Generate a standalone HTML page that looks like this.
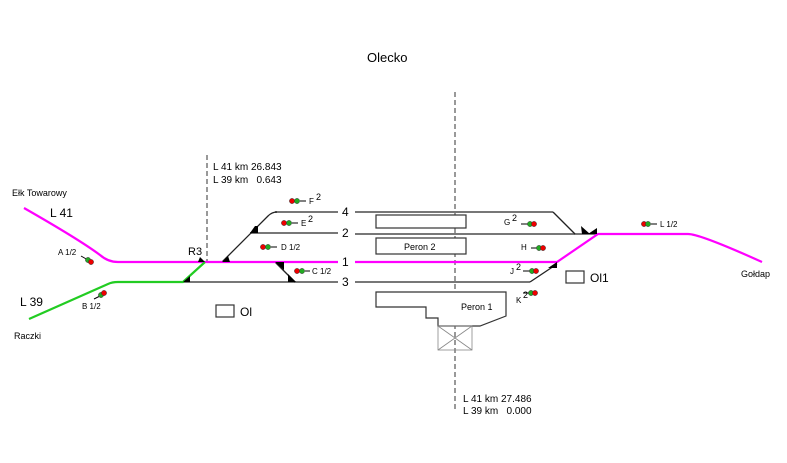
<!DOCTYPE html>
<html><head><meta charset="utf-8"><style>
html,body{margin:0;padding:0;background:#fff;width:787px;height:463px;overflow:hidden}
svg{display:block;font-family:"Liberation Sans",sans-serif}
</style></head><body>
<svg width="787" height="463" viewBox="0 0 787 463" xmlns="http://www.w3.org/2000/svg">
<text x="367" y="62" font-size="13">Olecko</text>
<line x1="207" y1="155" x2="207" y2="262" stroke="#333" stroke-dasharray="5,3"/>
<line x1="455" y1="92" x2="455" y2="412" stroke="#333" stroke-dasharray="5,3"/>
<text x="213" y="170" font-size="10">L 41 km 26.843</text>
<text x="213" y="183" font-size="10">L 39 km &#160;&#160;0.643</text>
<text x="463" y="402" font-size="10">L 41 km 27.486</text>
<text x="463" y="414" font-size="10">L 39 km &#160;&#160;0.000</text>
<g stroke="#777" stroke-width="2" fill="none">
<line x1="275" y1="212" x2="338" y2="212"/>
<line x1="355" y1="212" x2="553" y2="212"/>
<line x1="250" y1="233" x2="338" y2="233"/>
<line x1="355" y1="234" x2="596" y2="234"/>
<line x1="183" y1="282" x2="338" y2="282"/>
<line x1="355" y1="282" x2="530" y2="282"/>
</g>
<g stroke="#222" stroke-width="1.3" fill="none">
<path d="M222,262 L268,216 Q272,212 277,212"/>
<line x1="275" y1="262" x2="295" y2="282"/>
<line x1="553" y1="212" x2="575" y2="234"/>
<line x1="530" y1="282" x2="557" y2="264"/>
</g>
<g stroke="#ff00ff" stroke-width="2.2" fill="none">
<path d="M24,208 Q80,240 100,255 Q108,262 118,262 L338,262"/>
<path d="M355,262 L557,262 L598,234 L688,234 Q700,234 762,262"/>
</g>
<path d="M29,319 L108,284 Q112,282 118,282 L183,282 L205,262" stroke="#22cc22" stroke-width="2.2" fill="none"/>
<g fill="#000">
<polygon points="222,262 228,256 230,262"/>
<polygon points="250,233 255,226 258,226 258,233"/>
<polygon points="198,262 205,262 200,257"/>
<polygon points="183,282 190,282 190,276"/>
<polygon points="275,262 284,262 284,270"/>
<polygon points="288,282 296,282 288,274"/>
<polygon points="582,234 590,234 581,226"/>
<polygon points="588,234 597,234 597,228"/>
<polygon points="548,269 557,263 557,269" transform="translate(0,-1)"/>
</g>
<g font-size="12">
<text x="342" y="216">4</text><text x="342" y="237">2</text>
<text x="342" y="266">1</text><text x="342" y="286">3</text>
</g>
<g stroke="#333" stroke-width="1.2" fill="#fff">
<rect x="376" y="215" width="90" height="13"/>
<rect x="376" y="238" width="90" height="16"/>
<polygon points="376,292 506,292 506,316 480,326 438,326 438,318 426,318 426,307 376,307"/>
<rect x="216" y="305" width="18" height="12"/>
<rect x="566" y="271" width="18" height="12"/>
</g>
<g stroke="#888" stroke-width="0.8" fill="none">
<rect x="438" y="326" width="34" height="24"/>
<line x1="438" y1="326" x2="472" y2="350"/><line x1="472" y1="326" x2="438" y2="350"/>
</g>
<text x="404" y="250" font-size="9">Peron 2</text>
<text x="461" y="310" font-size="9">Peron 1</text>
<text x="240" y="316" font-size="12">Ol</text>
<text x="590" y="282" font-size="12">Ol1</text>
<text x="188" y="255" font-size="11">R3</text>
<text x="12" y="196" font-size="9">Ełk Towarowy</text>
<text x="50" y="217" font-size="12">L 41</text>
<text x="20" y="306" font-size="12">L 39</text>
<text x="14" y="339" font-size="9">Raczki</text>
<text x="741" y="277" font-size="9">Gołdap</text>
<g font-size="8">
<text x="58" y="255">A 1/2</text>
<line x1="81" y1="256" x2="88" y2="260" stroke="#000"/>
<circle cx="88" cy="260" r="2.6" fill="#22aa22" stroke="#333" stroke-width=".5"/><circle cx="91" cy="262" r="2.6" fill="#e00" stroke="#333" stroke-width=".5"/>
<text x="82" y="309">B 1/2</text>
<line x1="94" y1="299" x2="100" y2="296" stroke="#000"/>
<circle cx="101" cy="295" r="2.6" fill="#22aa22" stroke="#333" stroke-width=".5"/><circle cx="104" cy="293" r="2.6" fill="#e00" stroke="#333" stroke-width=".5"/>
</g>
<g font-size="8" stroke-width=".5">
<circle cx="292" cy="201" r="2.6" fill="#e00" stroke="#333"/><circle cx="297" cy="201" r="2.6" fill="#22aa22" stroke="#333"/>
<line x1="300" y1="201" x2="306" y2="201" stroke="#000" stroke-width="1"/>
<text x="309" y="204" stroke="none">F</text><text x="316" y="200" stroke="none" font-size="9">2</text>
<circle cx="284" cy="223" r="2.6" fill="#e00" stroke="#333"/><circle cx="289" cy="223" r="2.6" fill="#22aa22" stroke="#333"/>
<line x1="292" y1="223" x2="298" y2="223" stroke="#000" stroke-width="1"/>
<text x="301" y="226" stroke="none">E</text><text x="308" y="222" stroke="none" font-size="9">2</text>
<circle cx="263" cy="247" r="2.6" fill="#e00" stroke="#333"/><circle cx="268" cy="247" r="2.6" fill="#22aa22" stroke="#333"/>
<line x1="271" y1="247" x2="277" y2="247" stroke="#000" stroke-width="1"/>
<text x="281" y="250" stroke="none">D 1/2</text>
<circle cx="297" cy="271" r="2.6" fill="#e00" stroke="#333"/><circle cx="302" cy="271" r="2.6" fill="#22aa22" stroke="#333"/>
<line x1="305" y1="271" x2="310" y2="271" stroke="#000" stroke-width="1"/>
<text x="312" y="274" stroke="none">C 1/2</text>
<text x="504" y="225" stroke="none">G</text><text x="512" y="221" stroke="none" font-size="9">2</text>
<line x1="521" y1="224" x2="528" y2="224" stroke="#000" stroke-width="1"/>
<circle cx="530" cy="224" r="2.6" fill="#22aa22" stroke="#333"/><circle cx="534" cy="224" r="2.6" fill="#e00" stroke="#333"/>
<text x="521" y="250" stroke="none">H</text>
<line x1="531" y1="248" x2="537" y2="248" stroke="#000" stroke-width="1"/>
<circle cx="539" cy="248" r="2.6" fill="#22aa22" stroke="#333"/><circle cx="543" cy="248" r="2.6" fill="#e00" stroke="#333"/>
<text x="510" y="274" stroke="none">J</text><text x="516" y="270" stroke="none" font-size="9">2</text>
<line x1="523" y1="271" x2="530" y2="271" stroke="#000" stroke-width="1"/>
<circle cx="532" cy="271" r="2.6" fill="#22aa22" stroke="#333"/><circle cx="536" cy="271" r="2.6" fill="#e00" stroke="#333"/>
<text x="516" y="303" stroke="none">K</text><text x="523" y="298" stroke="none" font-size="9">2</text>
<line x1="523" y1="293" x2="530" y2="293" stroke="#000" stroke-width="1"/>
<circle cx="531" cy="293" r="2.6" fill="#22aa22" stroke="#333"/><circle cx="535" cy="293" r="2.6" fill="#e00" stroke="#333"/>
<circle cx="644" cy="224" r="2.6" fill="#e00" stroke="#333"/><circle cx="648" cy="224" r="2.6" fill="#22aa22" stroke="#333"/>
<line x1="651" y1="224" x2="657" y2="224" stroke="#000" stroke-width="1"/>
<text x="660" y="227" stroke="none">L 1/2</text>
</g>
</svg>
</body></html>
